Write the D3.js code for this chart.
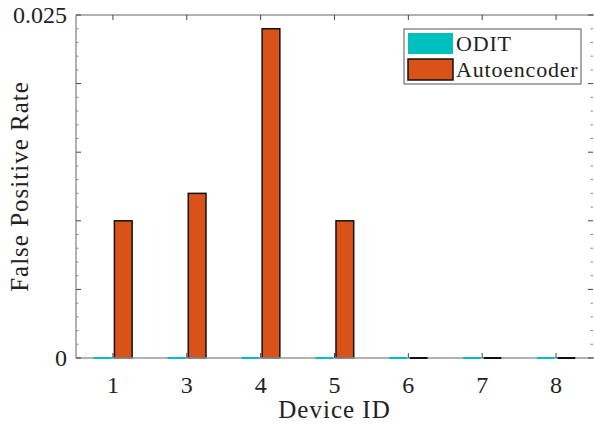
<!DOCTYPE html>
<html>
<head>
<meta charset="utf-8">
<script src="https://cdn.jsdelivr.net/npm/d3@7"></script>
<style>
  body { margin: 0; background: #fff; }
  svg { display: block; }
  text { font-family: "Liberation Serif", "DejaVu Serif", serif; fill: #222; }
</style>
</head>
<body>
<svg id="chart" width="594" height="424"></svg>
<script>
const categories = ["1", "3", "4", "5", "6", "7", "8"];
const seriesNames = ["ODIT", "Autoencoder"];
const oditValues = [0, 0, 0, 0, 0, 0, 0];
const autoencoderValues = [0.0100, 0.0120, 0.0240, 0.0100, 0, 0, 0];
const yTickLabels = [0, 0.025];
const colors = ["#00bfbf", "#d95319"];

const svg = d3.select("#chart");
const W = 594, H = 424;
const m = { left: 76, right: 593, top: 15, bottom: 358 };

const x = d3.scaleLinear().domain([0.5, categories.length + 0.5]).range([m.left, m.right]);
const y = d3.scaleLinear().domain([0, 0.025]).range([m.bottom, m.top]);

const barW = x(0.24) - x(0);
const offsets = [-0.14, 0.14];
const series = [oditValues, autoencoderValues];

// bars
series.forEach((vals, si) => {
  svg.append("g").selectAll("rect").data(vals).join("rect")
    .attr("x", (d, i) => x(i + 1 + offsets[si]) - barW / 2)
    .attr("width", barW)
    .attr("y", d => y(d))
    .attr("height", d => Math.max(0, y(0) - y(d)))
    .attr("fill", colors[si])
    .attr("stroke", si === 1 ? "#111" : colors[si])
    .attr("stroke-width", 1.5);
});

// axes box lines
const axisColor = "#999";
svg.append("line").attr("x1", m.left).attr("x2", W).attr("y1", m.top).attr("y2", m.top).attr("stroke", axisColor).attr("stroke-width", 1.5);
svg.append("line").attr("x1", m.left).attr("x2", W).attr("y1", m.bottom).attr("y2", m.bottom).attr("stroke", axisColor).attr("stroke-width", 1.5);
svg.append("line").attr("x1", m.left).attr("x2", m.left).attr("y1", m.top).attr("y2", m.bottom).attr("stroke", axisColor).attr("stroke-width", 1.5);

// zero-height bars drawn over baseline
series.forEach((vals, si) => {
  svg.append("g").selectAll("line").data(vals.map((d, i) => ({ d, i })).filter(o => o.d === 0)).join("line")
    .attr("x1", o => x(o.i + 1 + offsets[si]) - barW / 2)
    .attr("x2", o => x(o.i + 1 + offsets[si]) + barW / 2)
    .attr("y1", y(0)).attr("y2", y(0))
    .attr("stroke", si === 1 ? "#111" : colors[si])
    .attr("stroke-width", 2);
});

// y ticks (minor and major) on left and right, inward
const minor = d3.range(0, 0.02501, 0.001);
minor.forEach((v, k) => {
  const major = k % 5 === 0;
  const len = major ? 5 : 2.5;
  svg.append("line").attr("x1", m.left).attr("x2", m.left + len).attr("y1", y(v)).attr("y2", y(v))
    .attr("stroke", major ? "#444" : "#888").attr("stroke-width", 1);
  svg.append("line").attr("x1", m.right).attr("x2", m.right - len).attr("y1", y(v)).attr("y2", y(v))
    .attr("stroke", major ? "#444" : "#888").attr("stroke-width", 1);
});

// x ticks top and bottom
categories.forEach((c, i) => {
  svg.append("line").attr("x1", x(i + 1)).attr("x2", x(i + 1)).attr("y1", m.top).attr("y2", m.top + 5)
    .attr("stroke", "#444").attr("stroke-width", 1);
  svg.append("line").attr("x1", x(i + 1)).attr("x2", x(i + 1)).attr("y1", m.bottom).attr("y2", m.bottom - 5)
    .attr("stroke", "#444").attr("stroke-width", 1);
});

// x tick labels
svg.append("g").selectAll("text").data(categories).join("text")
  .attr("x", (d, i) => x(i + 1))
  .attr("y", 393)
  .attr("text-anchor", "middle")
  .attr("font-size", 24)
  .text(d => d);

// y tick labels
svg.append("g").selectAll("text").data(yTickLabels).join("text")
  .attr("x", 67)
  .attr("y", d => y(d) + 8)
  .attr("text-anchor", "end")
  .attr("font-size", 24)
  .text(d => d === 0 ? "0" : String(d));

// axis titles
svg.append("text").attr("x", (m.left + m.right) / 2).attr("y", 418)
  .attr("text-anchor", "middle").attr("font-size", 25).attr("letter-spacing", 1).text("Device ID");
svg.append("text").attr("transform", `translate(28,${(m.top + m.bottom) / 2}) rotate(-90)`)
  .attr("text-anchor", "middle").attr("font-size", 25).attr("letter-spacing", 1).text("False Positive Rate");

// legend
const lg = svg.append("g");
lg.append("rect").attr("x", 404).attr("y", 29).attr("width", 177).attr("height", 55)
  .attr("fill", "#fff").attr("stroke", "#555").attr("stroke-width", 1);
seriesNames.forEach((name, i) => {
  const yy = 33 + i * 26;
  lg.append("rect").attr("x", 408).attr("y", yy).attr("width", 45).attr("height", 21)
    .attr("fill", colors[i])
    .attr("stroke", i === 1 ? "#111" : "none").attr("stroke-width", 1.5);
  lg.append("text").attr("x", 456).attr("y", yy + 18).attr("font-size", 22).attr("letter-spacing", 0.8).text(name);
});
</script>
</body>
</html>
